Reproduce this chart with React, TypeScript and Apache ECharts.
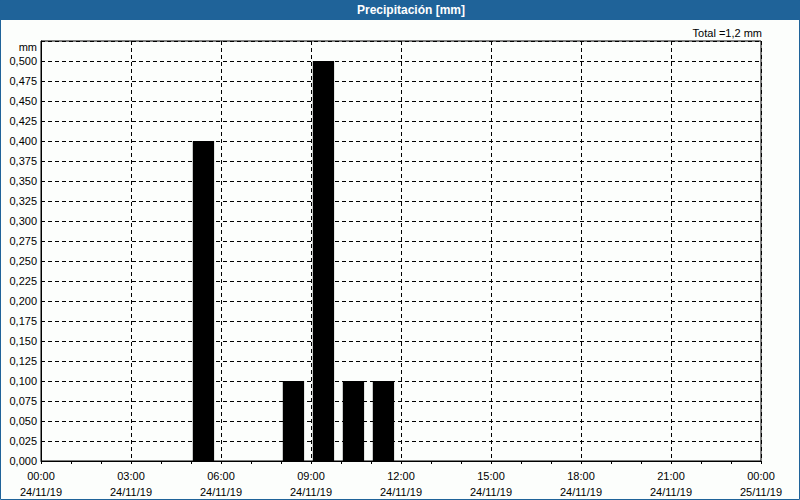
import React, { useEffect, useRef } from "react";
import * as echarts from "echarts";

const hours = [5, 8, 9, 10, 11];
const values = [0.4, 0.1, 0.5, 0.1, 0.1];
const xTicks = [0, 3, 6, 9, 12, 15, 18, 21, 24];
const xTimeLabels = ["00:00", "03:00", "06:00", "09:00", "12:00", "15:00", "18:00", "21:00", "00:00"];
const xDateLabels = ["24/11/19", "24/11/19", "24/11/19", "24/11/19", "24/11/19", "24/11/19", "24/11/19", "24/11/19", "25/11/19"];
const titleText = "Precipitación [mm]";
const totalText = "Total =1,2 mm";
const unitText = "mm";

const FONT = "'Liberation Sans', Arial, sans-serif";

export default function App() {
  const ref = useRef<HTMLDivElement>(null);
  useEffect(() => {
    if (!ref.current) return;
    const chart = echarts.init(ref.current, undefined, { renderer: "svg" });
    const data = hours.map((h, i) => [h, values[i]]);
    chart.setOption({
      animation: false,
      backgroundColor: "#fcfefc",
      grid: { left: 41, right: 39, top: 41, bottom: 39, show: true, borderColor: "#000", borderWidth: 1, backgroundColor: "transparent" },
      xAxis: {
        type: "value",
        min: 0,
        max: 24,
        interval: 3,
        axisLine: { show: true, lineStyle: { color: "#000", width: 1 } },
        axisTick: { show: true, length: 3, lineStyle: { color: "#000" } },
        minorTick: { show: true, splitNumber: 3, length: 3, lineStyle: { color: "#000" } },
        splitLine: { show: true, lineStyle: { color: "#000", type: [4, 3], width: 1 } },
        axisLabel: {
          margin: 7,
          fontFamily: FONT,
          fontSize: 11,
          color: "#000",
          lineHeight: 16,
          formatter: (v: number) => {
            const i = xTicks.indexOf(Math.round(v));
            return i >= 0 ? xTimeLabels[i] + "\n" + xDateLabels[i] : "";
          },
        },
      },
      yAxis: {
        type: "value",
        min: 0,
        max: 0.525,
        interval: 0.025,
        axisLine: { show: true, lineStyle: { color: "#000", width: 1 } },
        axisTick: { show: false },
        splitLine: { show: true, lineStyle: { color: "#000", type: [4, 3], width: 1 } },
        axisLabel: {
          margin: 4,
          fontFamily: FONT,
          fontSize: 11,
          color: "#000",
          formatter: (v: number) => (v > 0.51 ? "" : v.toFixed(3).replace(".", ",")),
        },
      },
      series: [
        {
          type: "custom",
          data,
          encode: { x: 0, y: 1 },
          renderItem: (params: any, api: any) => {
            const h = api.value(0);
            const v = api.value(1);
            const p0 = api.coord([h + 0.06, v]);
            const p1 = api.coord([h + 0.77, 0]);
            return {
              type: "rect",
              shape: { x: p0[0], y: p0[1], width: p1[0] - p0[0], height: p1[1] - p0[1] },
              style: { fill: "#000" },
            };
          },
        },
      ],
      graphic: [
        { type: "rect", left: 0, top: 0, shape: { width: 800, height: 20 }, style: { fill: "#1f6399" }, z: 10 },
        {
          type: "text",
          x: 411,
          y: 10,
          style: { text: titleText, fill: "#fff", font: `bold 12px ${FONT}`, align: "center", verticalAlign: "middle" },
          z: 11,
        },
        {
          type: "rect",
          shape: { x: 0.5, y: 0.5, width: 799, height: 499 },
          style: { fill: "none", stroke: "#1f6399", lineWidth: 1 },
          z: 12,
        },
        {
          type: "text",
          x: 762,
          y: 33,
          style: { text: totalText, fill: "#000", font: `11px ${FONT}`, align: "right", verticalAlign: "middle" },
          z: 11,
        },
        {
          type: "text",
          x: 37,
          y: 47,
          style: { text: unitText, fill: "#000", font: `11px ${FONT}`, align: "right", verticalAlign: "middle" },
          z: 11,
        },
      ],
    });
    return () => chart.dispose();
  }, []);
  return <div ref={ref} style={{ position: "fixed", left: 0, top: 0, width: 800, height: 500 }} />;
}
